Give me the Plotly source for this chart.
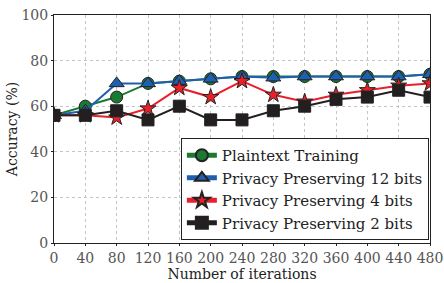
import plotly.graph_objects as go

iterations = [0, 40, 80, 120, 160, 200, 240, 280, 320, 360, 400, 440, 480]
plaintext = [56, 60, 64, 70, 71, 72, 73, 73, 73, 73, 73, 73, 74]
pp12 = [56, 58, 70, 70, 71, 72, 73, 72.5, 73, 73, 73, 73, 74]
pp4 = [56, 56, 55, 59, 68, 64, 71, 65, 62, 65, 67, 69, 70]
pp2 = [56, 56, 58, 54, 60, 54, 54, 58, 60, 63, 64, 67, 64]
x_ticks = list(range(0, 481, 40))
y_ticks = [0, 20, 40, 60, 80, 100]

series = [
    ("Plaintext Training", plaintext, "#1a7a32", "circle", 12),
    ("Privacy Preserving 12 bits", pp12, "#1f5fb0", "triangle-up", 13),
    ("Privacy Preserving 4 bits", pp4, "#e8202a", "star", 12),
    ("Privacy Preserving 2 bits", pp2, "#231f20", "square", 12),
]

fig = go.Figure()
for name, vals, col, sym, sz in series:
    fig.add_trace(go.Scatter(
        x=iterations, y=vals, name=name, mode="lines+markers",
        line=dict(color=col, width=2),
        marker=dict(symbol=sym, size=sz, color=col, line=dict(color="#222", width=1)),
    ))

fam = "DejaVu Serif"
fig.update_layout(
    width=444, height=283,
    margin=dict(l=54, r=14, t=15, b=40),
    paper_bgcolor="white", plot_bgcolor="white",
    font=dict(family=fam, size=14, color="#222"), showlegend=True,
    legend=dict(x=0.997, y=0.013, xanchor="right", yanchor="bottom",
                bordercolor="#222", borderwidth=1, bgcolor="white",
                font=dict(family=fam, size=15, color="#222"),
                tracegroupgap=0, itemsizing="constant"),
)
common = dict(showgrid=True, gridcolor="#c4c4c4", griddash="dot", gridwidth=1,
              showline=True, linecolor="#222", linewidth=1, mirror=True,
              ticks="outside", ticklen=2, tickcolor="#222", automargin=False,
              tickfont=dict(family=fam, size=14, color="#555"), zeroline=False)
fig.update_xaxes(range=[0, 480], tickvals=x_ticks,
                 title=dict(text="Number of iterations", standoff=2,
                            font=dict(family=fam, size=14, color="#222")), **common)
fig.update_yaxes(range=[0, 100], tickvals=y_ticks,
                 title=dict(text="Accuracy (%)", standoff=0,
                            font=dict(family=fam, size=14, color="#222")), **common)
fig.write_html("out.html", config={"displayModeBar": False},
               post_script="document.body.style.margin='0px';")
